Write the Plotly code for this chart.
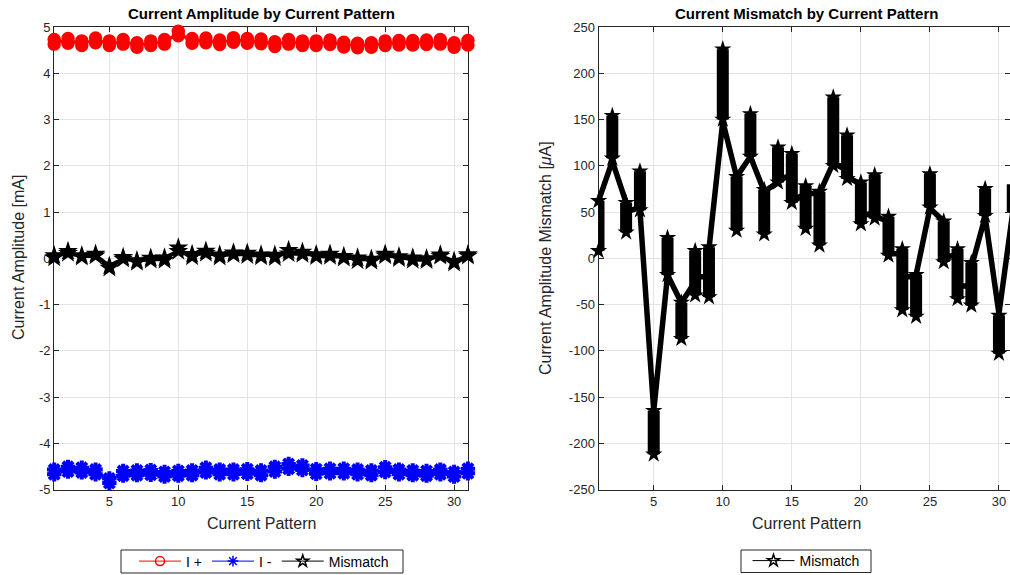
import plotly.graph_objects as go

# ---------------- data ----------------
patterns = list(range(1, 32))

# Current mismatch per pattern [uA]: sample range and first/last sample
mm_lo = [8, 108, 28, 52, -212, -18, -87, -40, -42, 150, 30, 110, 26, 82, 60, 32,
         14, 100, 86, 37, 43, 3, -56, -63, 55, -4, -44, -51, 46, -103, 50]
mm_hi = [62, 154, 60, 94, -165, 22, -48, 8, 12, 226, 88, 156, 74, 120, 113, 78,
         72, 174, 133, 82, 90, 45, 10, -18, 91, 40, 10, -5, 75, -62, 80]
mm_first = [10, 105, 60, 55, -165, -18, -48, -25, -20, 148, 88, 110, 72, 82, 90, 70,
            70, 103, 95, 80, 50, 40, 5, -20, 54, 40, 5, -30, 45, -60, 50]
mm_last = [62, 105, 50, 52, -165, -18, -48, -20, 10, 148, 88, 110, 72, 85, 62, 70,
           70, 103, 88, 45, 45, 5, -20, -18, 54, 0, -30, -10, 45, -60, 75]

# I+ amplitude per pattern [mA]: sample range
ip_lo = [4.63, 4.65, 4.60, 4.66, 4.60, 4.63, 4.56, 4.60, 4.63, 4.81, 4.65, 4.66, 4.62, 4.67, 4.65, 4.64,
         4.58, 4.63, 4.60, 4.60, 4.62, 4.57, 4.55, 4.56, 4.60, 4.61, 4.61, 4.62, 4.63, 4.56, 4.61]
ip_hi = [4.73, 4.75, 4.70, 4.76, 4.70, 4.73, 4.66, 4.70, 4.73, 4.91, 4.75, 4.76, 4.72, 4.77, 4.75, 4.74,
         4.68, 4.73, 4.70, 4.70, 4.72, 4.67, 4.65, 4.66, 4.70, 4.71, 4.71, 4.72, 4.73, 4.66, 4.71]

# I- amplitude per pattern [mA]: sample range
im_lo = [-4.67, -4.61, -4.63, -4.67, -4.86, -4.70, -4.69, -4.68, -4.72, -4.70, -4.69, -4.63, -4.67, -4.67, -4.66, -4.69,
         -4.61, -4.55, -4.58, -4.66, -4.65, -4.65, -4.67, -4.69, -4.62, -4.67, -4.69, -4.70, -4.67, -4.72, -4.65]
im_hi = [-4.57, -4.51, -4.53, -4.57, -4.76, -4.60, -4.59, -4.58, -4.62, -4.60, -4.59, -4.53, -4.57, -4.57, -4.56, -4.59,
         -4.51, -4.45, -4.48, -4.56, -4.55, -4.55, -4.57, -4.59, -4.52, -4.57, -4.59, -4.60, -4.57, -4.62, -4.55]

x_ticks = [5, 10, 15, 20, 25, 30]
x_labels = ["5", "10", "15", "20", "25", "30"]
y1_ticks = [-5, -4, -3, -2, -1, 0, 1, 2, 3, 4, 5]
y1_labels = ["-5", "-4", "-3", "-2", "-1", "0", "1", "2", "3", "4", "5"]
y2_ticks = [-250, -200, -150, -100, -50, 0, 50, 100, 150, 200, 250]
y2_labels = ["-250", "-200", "-150", "-100", "-50", "0", "50", "100", "150", "200", "250"]

# ---------------- helpers ----------------
def pairs(lo, hi, scale=1.0, sep=False):
    xs, ys = [], []
    for p, a, b in zip(patterns, lo, hi):
        xs += [p, p]
        ys += [a * scale, b * scale]
        if sep:
            xs.append(None)
            ys.append(None)
    return xs, ys

FONT = "Liberation Sans, Arial, Helvetica, sans-serif"
AX = "#262626"
GRID = "#e3e3e3"

fig = go.Figure()

# ---------------- left subplot ----------------
x, y = pairs(ip_lo, ip_hi)
fig.add_trace(go.Scatter(x=x, y=y, mode="lines+markers", xaxis="x", yaxis="y",
                         line=dict(color="#ff0000", width=3),
                         marker=dict(symbol="circle-open", size=8, color="#ff0000", line=dict(width=5.5)),
                         cliponaxis=False, showlegend=False, hoverinfo="skip"))
x, y = pairs(im_lo, im_hi)
fig.add_trace(go.Scatter(x=x, y=y, mode="lines+markers", xaxis="x", yaxis="y",
                         line=dict(color="#0000ff", width=3),
                         marker=dict(symbol="asterisk-open", size=12, color="#0000ff", line=dict(width=4, color="#0000ff")),
                         cliponaxis=False, showlegend=False, hoverinfo="skip"))
x, y = pairs(mm_first, mm_last, 0.001)
fig.add_trace(go.Scatter(x=x, y=y, mode="lines", xaxis="x", yaxis="y",
                         line=dict(color="black", width=4), showlegend=False, hoverinfo="skip"))
x, y = pairs(mm_lo, mm_hi, 0.001, sep=True)
fig.add_trace(go.Scatter(x=x, y=y, mode="lines+markers", xaxis="x", yaxis="y",
                         line=dict(color="black", width=8),
                         marker=dict(symbol="star", size=15, color="black"),
                         cliponaxis=False, showlegend=False, hoverinfo="skip"))

# ---------------- right subplot ----------------
x, y = pairs(mm_first, mm_last)
fig.add_trace(go.Scatter(x=x, y=y, mode="lines", xaxis="x2", yaxis="y2",
                         line=dict(color="black", width=5.5), showlegend=False, hoverinfo="skip"))
x, y = pairs(mm_lo, mm_hi, sep=True)
fig.add_trace(go.Scatter(x=x, y=y, mode="lines+markers", xaxis="x2", yaxis="y2",
                         line=dict(color="black", width=12),
                         marker=dict(symbol="star", size=13, color="black"),
                         cliponaxis=False, showlegend=False, hoverinfo="skip"))

# ---------------- legend entries ----------------
fig.add_trace(go.Scatter(x=[None], y=[None], mode="lines+markers", name="I +", xaxis="x", yaxis="y",
                         line=dict(color="#ff0000", width=1),
                         marker=dict(symbol="circle-open", size=9, color="#ff0000", line=dict(width=1.5)),
                         legend="legend"))
fig.add_trace(go.Scatter(x=[None], y=[None], mode="lines+markers", name="I -", xaxis="x", yaxis="y",
                         line=dict(color="#0000ff", width=1),
                         marker=dict(symbol="asterisk-open", size=9, color="#0000ff", line=dict(width=1.5, color="#0000ff")),
                         legend="legend"))
fig.add_trace(go.Scatter(x=[None], y=[None], mode="lines+markers", name="Mismatch", xaxis="x", yaxis="y",
                         line=dict(color="black", width=1),
                         marker=dict(symbol="star-open", size=9, color="black", line=dict(width=1.5)),
                         legend="legend"))
fig.add_trace(go.Scatter(x=[None], y=[None], mode="lines+markers", name="Mismatch", xaxis="x2", yaxis="y2",
                         line=dict(color="black", width=1),
                         marker=dict(symbol="star-open", size=9, color="black", line=dict(width=1.5)),
                         legend="legend2"))

W, H = 1010, 575


def axis(domain, rng, tickvals, ticktext, anchor):
    return dict(domain=domain, range=rng, tickvals=tickvals, ticktext=ticktext, anchor=anchor,
                showline=True, linecolor=AX, linewidth=1, mirror="allticks",
                ticks="inside", ticklen=5, tickcolor=AX, tickwidth=1,
                showgrid=True, gridcolor=GRID, gridwidth=1, zeroline=False,
                tickfont=dict(family=FONT, size=13, color=AX), layer="below traces")


ydom = [1 - 489.5 / H, 1 - 27 / H]
fig.update_layout(
    width=W, height=H, margin=dict(l=0, r=0, t=0, b=0, autoexpand=False),
    paper_bgcolor="white", plot_bgcolor="white",
    font=dict(family=FONT, color=AX),
    xaxis=axis([54.2 / W, 467.9 / W], [1, 31], x_ticks, x_labels, "y"),
    yaxis=axis(ydom, [-5, 5], y1_ticks, y1_labels, "x"),
    xaxis2=axis([598.5 / W, 1.0], [1, 30.8], x_ticks, x_labels, "y2"),
    yaxis2=axis(ydom, [-250, 250], y2_ticks, y2_labels, "x2"),
    legend=dict(orientation="h", x=264 / W, xanchor="center", y=1 - 561.5 / H, yanchor="middle",
                borderwidth=0, bgcolor="rgba(0,0,0,0)",
                font=dict(family=FONT, size=14, color="black"), itemwidth=42),
    legend2=dict(orientation="h", x=806 / W, xanchor="center", y=1 - 561 / H, yanchor="middle",
                 borderwidth=0, bgcolor="rgba(0,0,0,0)",
                 font=dict(family=FONT, size=14, color="black"), itemwidth=42),
    showlegend=True,
    shapes=[
        dict(type="rect", xref="paper", yref="paper", x0=121 / W, x1=403 / W,
             y0=1 - 573 / H, y1=1 - 550 / H, line=dict(color=AX, width=1), fillcolor="rgba(0,0,0,0)", layer="below"),
        dict(type="rect", xref="paper", yref="paper", x0=741 / W, x1=871 / W,
             y0=1 - 572.5 / H, y1=1 - 550 / H, line=dict(color=AX, width=1), fillcolor="rgba(0,0,0,0)", layer="below"),
    ],
)

ann = [
    dict(text="<b>Current Amplitude by Current Pattern</b>", x=261 / W, y=1 - 13.5 / H, size=15, angle=0),
    dict(text="<b>Current Mismatch by Current Pattern</b>", x=806 / W, y=1 - 13.5 / H, size=15, angle=0),
    dict(text="Current Pattern", x=261 / W, y=1 - 523 / H, size=16, angle=0),
    dict(text="Current Pattern", x=806 / W, y=1 - 523 / H, size=16, angle=0),
    dict(text="Current Amplitude [mA]", x=18 / W, y=1 - 258 / H, size=16, angle=-90),
    dict(text="Current Amplitude Mismatch [<i>μ</i>A]", x=545 / W, y=1 - 258 / H, size=16, angle=-90),
]
for a in ann:
    fig.add_annotation(text=a["text"], x=a["x"], y=a["y"], xref="paper", yref="paper",
                       xanchor="center", yanchor="middle", showarrow=False, textangle=a["angle"],
                       font=dict(family=FONT, size=a["size"], color="black" if "<b>" in a["text"] else AX))

fig.write_html("out.html")
